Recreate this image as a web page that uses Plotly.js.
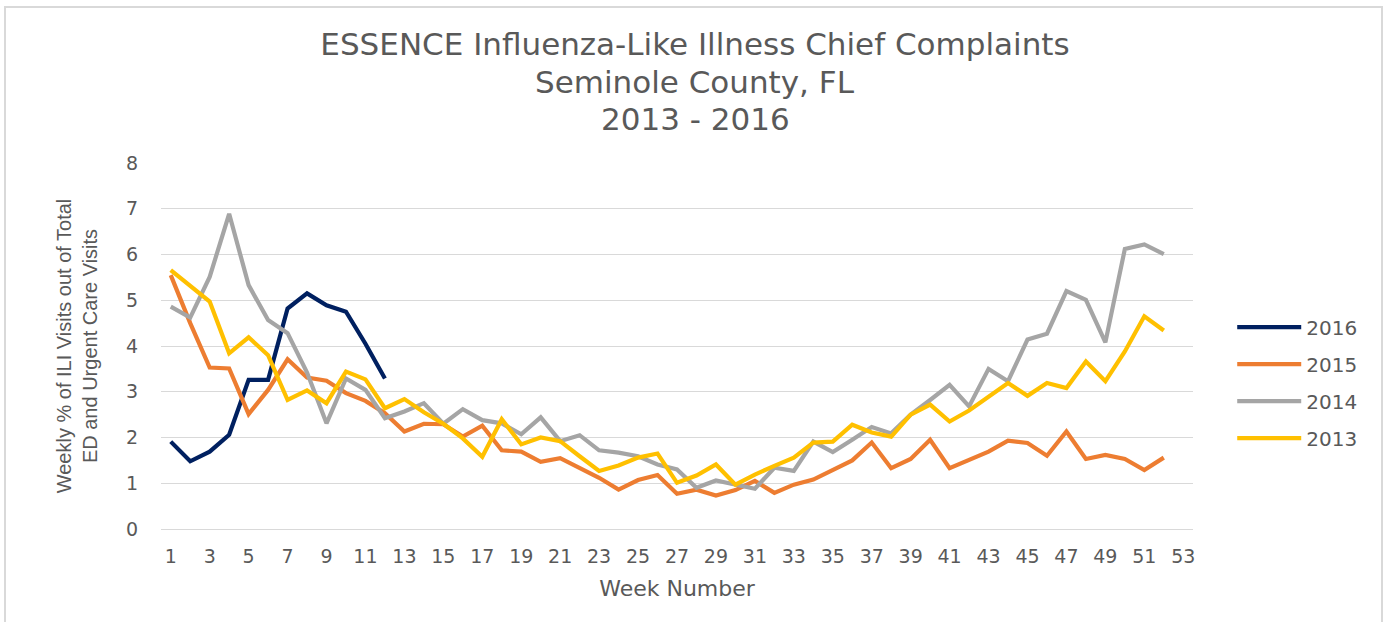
<!DOCTYPE html>
<html>
<head>
<meta charset="utf-8">
<script src="https://cdn.plot.ly/plotly-3.0.1.min.js"></script>
<style>
  html, body { margin: 0; padding: 0; background: #ffffff; }
  #frame { position: absolute; left: 4px; top: 6px; width: 1379px; height: 640px; border: 2px solid #d9d9d9; box-sizing: border-box; }
  #chart { position: absolute; left: 0; top: 0; width: 1390px; height: 622px; }
</style>
</head>
<body>
<div id="frame"></div>
<div id="chart"></div>
<script>
const weeks = [1,2,3,4,5,6,7,8,9,10,11,12,13,14,15,16,17,18,19,20,21,22,23,24,25,26,
               27,28,29,30,31,32,33,34,35,36,37,38,39,40,41,42,43,44,45,46,47,48,49,50,51,52];
const weekTicks = [1,3,5,7,9,11,13,15,17,19,21,23,25,27,29,31,33,35,37,39,41,43,45,47,49,51,53];
const seriesNames = ["2016", "2015", "2014", "2013"];

const y2016 = [1.91,1.48,1.69,2.06,3.26,3.26,4.82,5.15,4.89,4.75,4.05,3.29];
const y2015 = [5.55,4.50,3.53,3.51,2.51,3.04,3.71,3.31,3.24,2.97,2.80,2.53,2.13,2.30,2.29,2.02,
               2.26,1.72,1.69,1.47,1.55,1.34,1.12,0.86,1.07,1.18,0.77,0.86,0.73,0.85,1.05,0.79,
               0.97,1.08,1.28,1.50,1.89,1.33,1.53,1.95,1.33,1.51,1.69,1.93,1.88,1.60,2.13,1.53,
               1.62,1.53,1.29,1.56];
const y2014 = [4.86,4.62,5.51,6.89,5.33,4.57,4.28,3.42,2.31,3.29,3.04,2.42,2.57,2.75,2.30,2.62,
               2.38,2.31,2.07,2.44,1.92,2.05,1.72,1.67,1.59,1.41,1.30,0.90,1.06,0.97,0.88,1.34,
               1.27,1.91,1.68,1.95,2.23,2.09,2.50,2.82,3.15,2.68,3.50,3.23,4.14,4.27,5.20,5.01,
               4.08,6.12,6.22,6.01];
const y2013 = [5.66,5.32,4.97,3.84,4.19,3.80,2.82,3.03,2.75,3.44,3.27,2.64,2.84,2.55,2.30,1.98,
               1.58,2.40,1.85,2.00,1.92,1.59,1.27,1.39,1.56,1.65,1.01,1.17,1.41,0.97,1.19,1.38,
               1.56,1.89,1.91,2.28,2.11,2.02,2.50,2.72,2.35,2.59,2.90,3.19,2.91,3.19,3.08,3.66,
               3.23,3.88,4.65,4.34];

const colors = ["#002060", "#ed7d31", "#a5a5a5", "#ffc000"];
const values = [y2016, y2015, y2014, y2013];

const traces = values.map((v, i) => ({
  type: "scatter",
  mode: "lines",
  name: seriesNames[i],
  legendgroup: seriesNames[i],
  x: weeks.slice(0, v.length),
  y: v,
  line: { color: colors[i], width: 4.2 },
  hoverinfo: "x+y+name"
}));

const grey = "#595959";
const titleFont = { family: "DejaVu Sans, sans-serif", size: 31, color: grey };
const pageCenter = (695 - 161) / 1032;
const layout = {
  width: 1390,
  height: 622,
  paper_bgcolor: "rgba(0,0,0,0)",
  plot_bgcolor: "rgba(0,0,0,0)",
  margin: { l: 161, r: 197, t: 163, b: 93 },
  title: {
    text: "ESSENCE Influenza-Like Illness Chief Complaints",
    font: titleFont,
    x: 0.5, xref: "container", xanchor: "center",
    y: 1 - 44 / 622, yref: "container", yanchor: "middle"
  },
  annotations: [
    { text: "Seminole County, FL", xref: "paper", yref: "paper", x: pageCenter, xanchor: "center",
      y: (529.3 - 81.5) / 366.6, yanchor: "middle", showarrow: false, font: titleFont },
    { text: "2013 - 2016", xref: "paper", yref: "paper", x: pageCenter, xanchor: "center",
      y: (529.3 - 119) / 366.6, yanchor: "middle", showarrow: false, font: titleFont }
  ],
  xaxis: {
    range: [0.5, 53.5],
    tickmode: "array",
    tickvals: weekTicks,
    ticktext: weekTicks.map(String),
    showgrid: false,
    zeroline: false,
    showline: false,
    ticks: "",
    ticklabelstandoff: 14,
    tickfont: { family: "DejaVu Sans, sans-serif", size: 19, color: grey },
    title: { text: "Week Number", standoff: 14,
             font: { family: "DejaVu Sans, sans-serif", size: 22, color: grey } },
    fixedrange: true
  },
  yaxis: {
    range: [0, 8],
    dtick: 1,
    tick0: 0,
    showgrid: true,
    gridcolor: "#d9d9d9",
    gridwidth: 1.3,
    zeroline: true,
    zerolinecolor: "#d9d9d9",
    zerolinewidth: 1.3,
    showline: false,
    ticks: "",
    ticklabelstandoff: 22,
    tickfont: { family: "DejaVu Sans, sans-serif", size: 19, color: grey },
    title: { text: "Weekly % of ILI Visits out of Total<br>ED and Urgent Care Visits", standoff: 22,
             font: { family: "Liberation Sans, Arial, sans-serif", size: 20, color: grey } },
    fixedrange: true
  },
  showlegend: true,
  legend: {
    x: 1.038, xanchor: "left",
    y: 0.40, yanchor: "middle",
    traceorder: "grouped",
    tracegroupgap: 8,
    itemwidth: 64,
    font: { family: "DejaVu Sans, sans-serif", size: 20, color: grey },
    bgcolor: "rgba(0,0,0,0)"
  },
  hovermode: "closest"
};

Plotly.newPlot("chart", traces, layout, { displayModeBar: false, responsive: false });
</script>
</body>
</html>
